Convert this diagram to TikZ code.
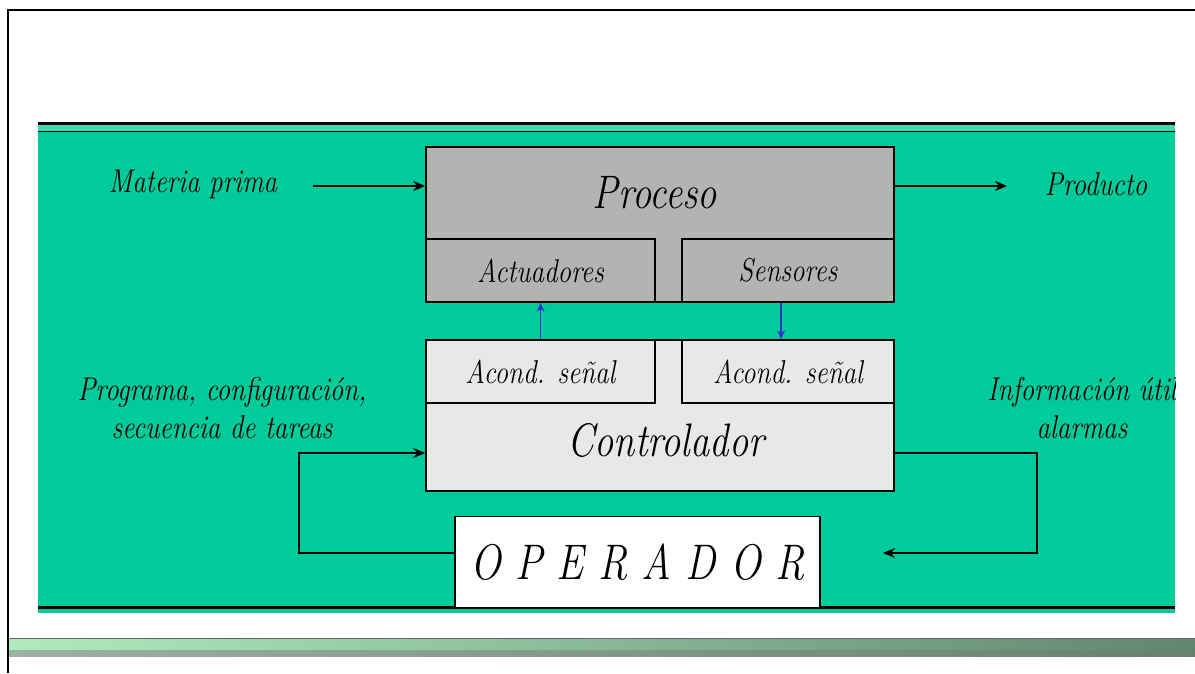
\documentclass[tikz,border=0pt]{standalone}
\usepackage{fontspec}
\newfontfamily\callfont{Latin Modern Roman}[FakeStretch=0.82]
\usetikzlibrary{arrows.meta}
\tikzstyle{every picture}=[semithick,>={Stealth[length=12pt,width=10pt]}]
\definecolor{panelgreen}{RGB}{0,203,155}
\definecolor{stripgreen}{RGB}{60,218,172}
\definecolor{procgray}{RGB}{179,179,179}
\definecolor{ctrlgray}{RGB}{232,232,232}
\definecolor{sigblue}{RGB}{51,51,204}

\tikzstyle{procbox}=[draw,line width=1.6pt,fill=procgray,inner sep=0pt]
\tikzstyle{ctrlbox}=[draw,line width=1.6pt,fill=ctrlgray,inner sep=0pt]
\tikzstyle{txt}=[font=\callfont\itshape\fontsize{33}{38}\selectfont,align=center]
\tikzstyle{bigtxt}=[font=\callfont\itshape\fontsize{47}{52}\selectfont]
\tikzstyle{feed}=[line width=2.4pt]
\tikzstyle{loopline}=[line width=1.8pt]
\tikzstyle{sig}=[sigblue,line width=1.4pt,>={Stealth[length=9pt,width=8pt]}]

\begin{document}
\begin{tikzpicture}[x=1pt,y=-1pt]
            \useasboundingbox (0,0) rectangle (1195,673);
            \fill[white] (0,0) rectangle (1195,673);

            % frame and bottom bar
            \draw[line width=1.5pt] (8,673) -- (8,10) -- (1195,10);
            \shade[left color={rgb,255:red,175;green,235;blue,190},right color={rgb,255:red,95;green,135;blue,110}]
                (9,639) rectangle (1195,650);
            \shade[left color={rgb,255:red,155;green,178;blue,162},right color={rgb,255:red,105;green,128;blue,112}]
                (9,650) rectangle (1195,656);
            \draw[line width=1pt,black!60] (9,638.5) -- (1195,638.5);

            \begin{scope}
            \clip (38,122) rectangle (1175,613);
            \fill[panelgreen] (38,122) rectangle (1175,613);
            \fill[stripgreen] (38,125) rectangle (1175,130.5);
            \draw[line width=3pt] (38,123.5) -- (1175,123.5);
            \draw[line width=1.2pt] (38,131.5) -- (1175,131.5);
            \draw[line width=2.6pt] (38,607.5) -- (1175,607.5);

            % process block
            \node[procbox,minimum width=468,minimum height=155] (proc) at (660,224.5) {};
            \node[bigtxt] (procname) at (655,193) {Proceso};
            \node[procbox,txt,minimum width=229,minimum height=63] (act) at (540.5,270.5) {Actuadores};
            \node[procbox,txt,minimum width=212,minimum height=63] (sens) at (788,270.5) {Sensores};

            % controller block
            \node[ctrlbox,minimum width=468,minimum height=151] (ctrl) at (660,415.5) {};
            \node[bigtxt] (ctrlname) at (666,440) {Controlador};
            \node[ctrlbox,txt,minimum width=229,minimum height=63] (acondA) at (540.5,371.5) {Acond. se\~nal};
            \node[ctrlbox,txt,minimum width=212,minimum height=63] (acondS) at (788,371.5) {Acond. se\~nal};

            \node[draw,fill=white,line width=1.6pt,minimum width=365,minimum height=91,inner sep=0pt,
                  font=\callfont\itshape\fontsize{50}{56}\selectfont] (oper) at (637.5,562) {O P E R A D O R};

            % outer labels
            \node[txt] (mp) at (193,184) {Materia prima};
            \node[txt] (prod) at (1096,184) {Producto};
            \node[txt] (prog) at (222,408) {Programa, configuraci\'on,\\secuencia de tareas};
            \node[txt] (info) at (1082,408) {Informaci\'on \'util\\alarmas};

            \coordinate (mpstart) at (313,186);
            \coordinate (prodend) at (1007,186);
            \coordinate (infoend) at (883,553);

            % material flow
            \draw[feed,->] (mpstart) -- (proc.west |- mpstart);
            \draw[feed,->] (proc.east |- prodend) -- (prodend);

            % signals
            \draw[sig,->] (acondA.north) -- (act.south);
            \draw[sig,->] ([xshift=-7]sens.south) -- ([xshift=-7]acondS.north);

            % operator loop
            \draw[loopline,->] ([yshift=9]oper.west) -| (299,453) -- ([yshift=-37.5]ctrl.west);
            \draw[loopline,->] ([yshift=-37.5]ctrl.east) -| (1037,553) -- (infoend);
            \end{scope}
        \end{tikzpicture}
\end{document}
